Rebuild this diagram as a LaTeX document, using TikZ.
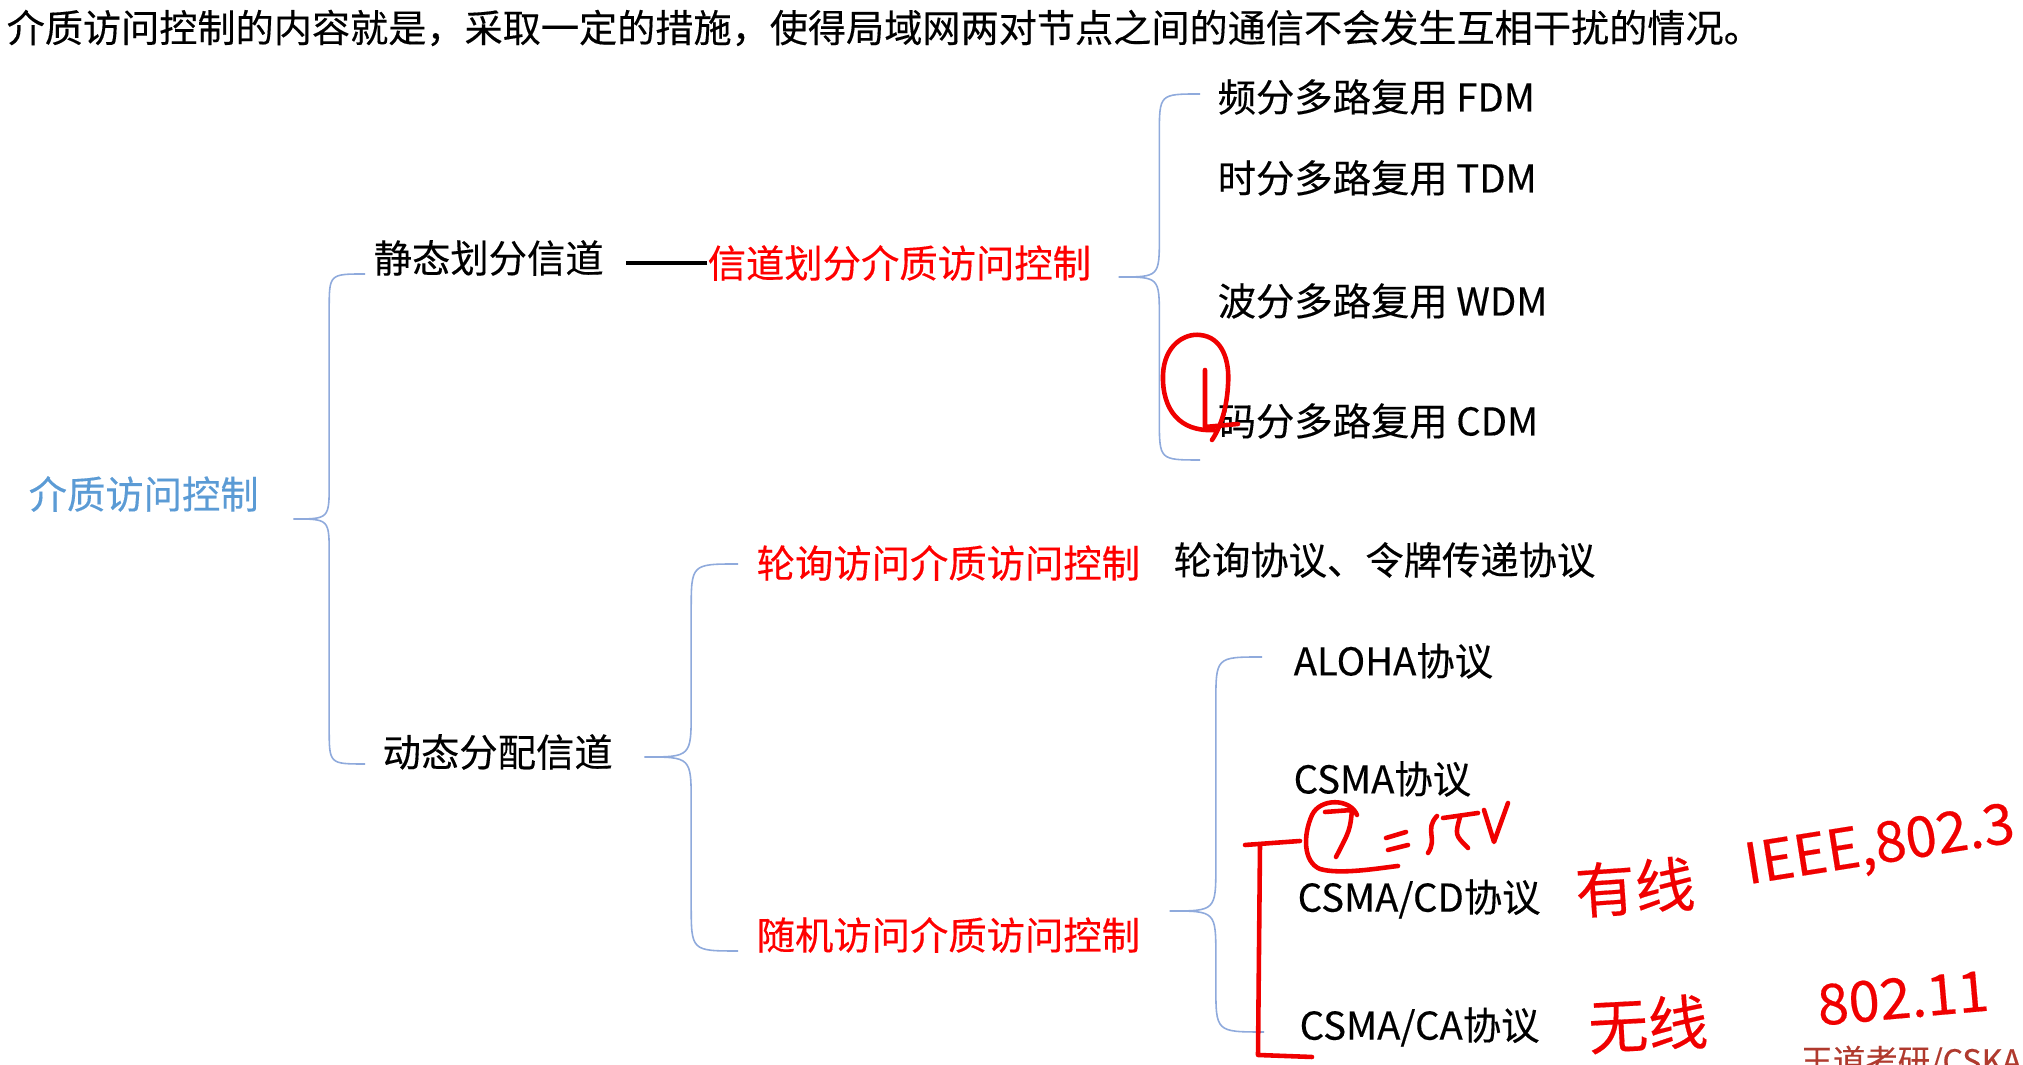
\documentclass[tikz,border=0pt]{standalone}
\usepackage{fontspec}
\setmainfont{Noto Sans CJK SC}[FakeBold=0.3]
\usetikzlibrary{calc}
\definecolor{rootblue}{HTML}{5B9BD5}
\definecolor{brcblue}{HTML}{8FAADC}
\definecolor{inkred}{HTML}{F00000}
\definecolor{wmred}{HTML}{B03A2E}

\newcommand\mmbrace[3]{%
  \draw[brc] let \p1=#1, \p2=#2, \p3=#3, \n1={(\x2-\x1)/2} in
    (\x2,\y2) .. controls (\x1+\n1,\y2) .. (\x1+\n1,\y2-\n1)
    -- (\x1+\n1,\y1+\n1) .. controls (\x1+\n1,\y1) .. (\x1,\y1)
    .. controls (\x1+\n1,\y1) .. (\x1+\n1,\y1-\n1)
    -- (\x1+\n1,\y3+\n1) .. controls (\x1+\n1,\y3) .. (\x3,\y3);}

\begin{document}
\begin{tikzpicture}[x=0.01cm,y=-0.01cm,
  txt/.style={anchor=west,inner sep=0pt,font=\fontsize{10.9pt}{13pt}\selectfont},
  redtxt/.style={txt,text=red},
  brc/.style={draw=brcblue,line width=0.45pt},
  ink/.style={draw=inkred,line width=1.3pt,line cap=round,line join=round},
  inktxt/.style={inner sep=0pt,text=inkred}]

  \fill[white] (0,0) rectangle (2023,1065);
  \useasboundingbox (0,0) rectangle (2023,1065);

  \node[txt,font=\fontsize{10.85pt}{13pt}\selectfont] (intro) at (6,28)
    {介质访问控制的内容就是，采取一定的措施，使得局域网两对节点之间的通信不会发生互相干扰的情况。};

  \node[txt,text=rootblue] (mac) at (28,494) {介质访问控制};

  \node[txt] (stat) at (373,258) {静态划分信道};
  \node[redtxt] (chdiv) at (707,263) {信道划分介质访问控制};
  \draw[line width=1.1pt] (chdiv.west) -- ++(-81,0);

  \foreach \nm/\yy/\tx in {fdm/97/频分多路复用 FDM,tdm/178/时分多路复用 TDM,
      wdm/301/波分多路复用 WDM,cdm/421/码分多路复用 CDM}{
    \node[txt] (\nm) at (1217,\yy) {\tx};
  }

  \node[txt] (dyn) at (382,752) {动态分配信道};
  \node[redtxt] (poll) at (756,563) {轮询访问介质访问控制};
  \node[txt] (pollp) at (1173,560) {轮询协议、令牌传递协议};
  \node[redtxt] (rand) at (756,935) {随机访问介质访问控制};

  \node[txt] (aloha) at (1293,661) {ALOHA协议};
  \node[txt] (csma) at (1293,779) {CSMA协议};
  \node[txt] (cd) at (1297,899) {CSMA/CD协议};
  \node[txt] (ca) at (1299,1027) {CSMA/CA协议};

  \mmbrace{($(mac.east)+(34,25)$)}{($(stat.west)+(-8,16)$)}{($(dyn.west)+(-17,12)$)}
  \mmbrace{($(chdiv.east)+(27,14)$)}{($(fdm.west)+(-17,-3)$)}{($(cdm.west)+(-17,39)$)}
  \mmbrace{($(dyn.east)+(31,5)$)}{($(poll.west)+(-18,1)$)}{($(rand.west)+(-18,16)$)}
  \mmbrace{($(rand.east)+(29,-24)$)}{($(aloha.west)+(-31,-4)$)}{($(ca.west)+(-35,5)$)}

  \draw[ink] (1214,430) .. controls (1180,432) and (1162,410) .. (1163,375)
    .. controls (1164,345) and (1185,333) .. (1200,335)
    .. controls (1222,337) and (1230,360) .. (1228,385)
    .. controls (1227,405) and (1222,425) .. (1212,440);
  \draw[ink] (1205,370) -- (1205,427) -- (1238,424);

  \draw[ink] (1357,815) .. controls (1350,798) and (1320,798) .. (1312,815)
    .. controls (1303,835) and (1303,862) .. (1320,869)
    .. controls (1340,875) and (1380,868) .. (1398,866);
  \draw[ink] (1325,812) -- (1352,810) .. controls (1350,830) .. (1336,857);
  \draw[ink] (1386,838) -- (1406,832);
  \draw[ink] (1388,850) -- (1408,845);
  \draw[ink] (1437,816) .. controls (1424,830) and (1438,838) .. (1428,853);
  \draw[ink] (1443,818) -- (1478,813);
  \draw[ink] (1460,817) .. controls (1455,835) .. (1468,848);
  \draw[ink] (1484,810) -- (1494,842) -- (1508,803);

  \draw[ink] (1245,845) -- (1300,841);
  \draw[ink] (1260,845) -- (1258,1055) -- (1312,1057);

  \node[inktxt,font=\fontsize{17pt}{17pt}\selectfont,rotate=4] (wired) at (1635,887) {有线};
  \node[inktxt,font=\fontsize{16pt}{16pt}\selectfont,rotate=9] (ieee) at (1880,848) {IEEE,802.3};
  \node[inktxt,font=\fontsize{17pt}{17pt}\selectfont,rotate=3] (wless) at (1648,1024) {无线};
  \node[inktxt,font=\fontsize{16pt}{16pt}\selectfont,rotate=5] (wifi) at (1903,998) {802.11};

  \node[anchor=north west,inner sep=0pt,text=wmred,font=\fontsize{9.2pt}{9pt}\selectfont]
    (wm) at (1800,1045) {王道考研/CSKAOYAN};

\end{tikzpicture}
\end{document}
